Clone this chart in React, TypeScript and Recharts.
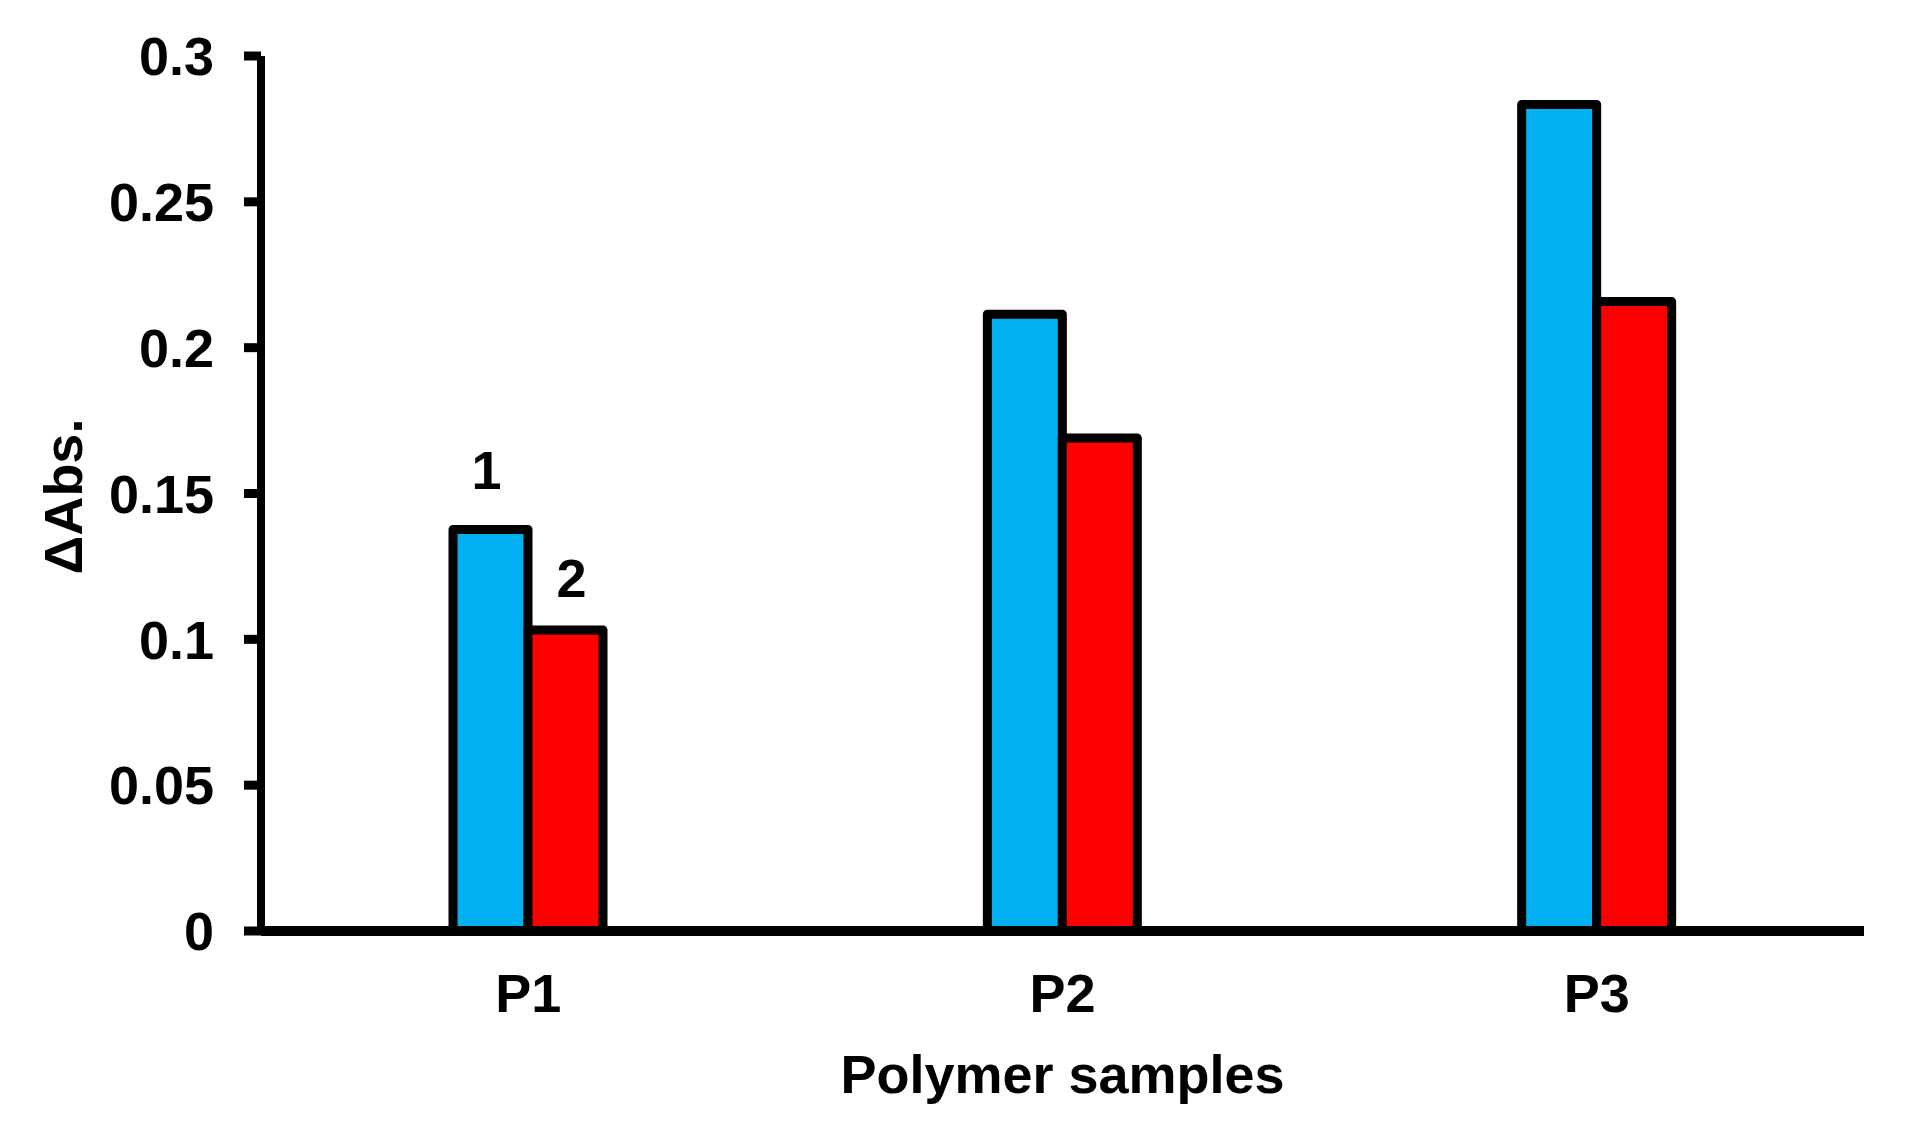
import React from 'react';
import { BarChart, Bar, XAxis, YAxis, Label, LabelList } from 'recharts';

const samples = ['P1', 'P2', 'P3'];
const series1 = [0.1377, 0.2115, 0.2834];
const series2 = [0.1032, 0.169, 0.2158];
const yTicks = [0, 0.05, 0.1, 0.15, 0.2, 0.25, 0.3];
const seriesNames = ['1', '2'];

const data = samples.map((s, i) => ({ name: s, s1: series1[i], s2: series2[i] }));

const FONT = '"Liberation Sans", Arial, sans-serif';

const numberLabel = (text: string, dx: number, gap: number) => (props: any) => {
  const { x, y, width, index } = props;
  if (index !== 0) return null;
  return (
    <text
      x={Number(x) + Number(width) / 2 + dx}
      y={Number(y) - gap}
      textAnchor="middle"
      fontFamily={FONT}
      fontWeight="bold"
      fontSize={54}
      fill="#000"
    >
      {text}
    </text>
  );
};

const YTitle = (props: any) => {
  const { viewBox } = props;
  const cx = 63;
  const cy = viewBox.y + viewBox.height / 2 + 3;
  return (
    <text
      x={cx}
      y={cy}
      transform={`rotate(-90, ${cx}, ${cy})`}
      textAnchor="middle"
      dominantBaseline="central"
      fontFamily={FONT}
      fontWeight="bold"
      fontSize={54}
      fill="#000"
    >
      ΔAbs.
    </text>
  );
};

export default function App() {
  return (
    <div style={{ position: 'absolute', left: 0, top: 0, background: '#fff' }}>
      <BarChart
        width={1906}
        height={1144}
        data={data}
        margin={{ top: 56, right: 42, bottom: 0, left: 0 }}
        barSize={75}
        barGap={0}
      >
        <XAxis
          dataKey="name"
          height={213}
          axisLine={{ stroke: '#000', strokeWidth: 10 }}
          tickLine={false}
          tickSize={0}
          tickMargin={43}
          tick={{ fill: '#000', fontSize: 54, fontWeight: 'bold', fontFamily: FONT }}
        >
          <Label
            value="Polymer samples"
            position="insideBottom"
            offset={51}
            fill="#000"
            fontSize={54}
            fontWeight="bold"
            fontFamily={FONT}
          />
        </XAxis>
        <YAxis
          width={261}
          domain={[0, 0.3]}
          ticks={yTicks}
          interval={0}
          axisLine={{ stroke: '#000', strokeWidth: 8 }}
          tickLine={{ stroke: '#000', strokeWidth: 9 }}
          tickSize={17}
          tickMargin={30}
          tick={{ fill: '#000', fontSize: 54, fontWeight: 'bold', fontFamily: FONT }}
        >
          <Label content={<YTitle />} />
        </YAxis>
        <Bar dataKey="s1" fill="#00B0F0" stroke="#000" strokeWidth={9} strokeLinejoin="round" isAnimationActive={false}>
          <LabelList dataKey="s1" content={numberLabel(seriesNames[0], -4, 40)} />
        </Bar>
        <Bar dataKey="s2" fill="#FF0000" stroke="#000" strokeWidth={9} strokeLinejoin="round" isAnimationActive={false}>
          <LabelList dataKey="s2" content={numberLabel(seriesNames[1], 6, 33)} />
        </Bar>
      </BarChart>
    </div>
  );
}
